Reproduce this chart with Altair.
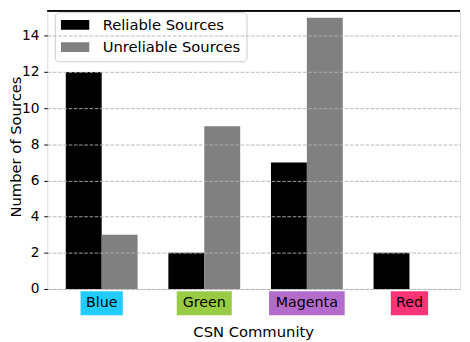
import altair as alt
import pandas as pd

# ---- data ----
communities = ["Blue", "Green", "Magenta", "Red"]
reliable = [12, 2, 7, 2]
unreliable = [3, 9, 15, 0]
series_names = ["Reliable Sources", "Unreliable Sources"]
y_ticks = [0, 2, 4, 6, 8, 10, 12, 14]
x_ticks = [0, 1, 2, 3]
x_title = "CSN Community"
y_title = "Number of Sources"

# ---- style ----
BAR_W = 0.35
SERIES_COLORS = ["#000000", "#808080"]
LABEL_COLORS = ["#22ccff", "#99cc44", "#b36ccc", "#ff3377"]
LABEL_BOX_PX = [43, 56, 77, 38]
PLOT_W, PLOT_H = 420, 283
X_DOMAIN = [-0.53, 3.493]
Y_DOMAIN = [0, 15.38]
PX_PER_UNIT = PLOT_W / (X_DOMAIN[1] - X_DOMAIN[0])
FONT = "DejaVu Sans"
GRID = dict(grid=True, gridColor="#b0b0b0", gridDash=[3.7, 1.6], gridWidth=0.9)

rows = []
for i, c in enumerate(communities):
    rows.append(dict(idx=i, community=c, series=series_names[0], value=reliable[i]))
    rows.append(dict(idx=i, community=c, series=series_names[1], value=unreliable[i]))
bars_df = pd.DataFrame(rows)

labels_df = pd.DataFrame(dict(idx=list(range(len(communities))), community=communities,
                              fill=LABEL_COLORS, boxw=LABEL_BOX_PX))

x_scale = alt.Scale(domain=X_DOMAIN, nice=False, zero=False)
y_scale = alt.Scale(domain=Y_DOMAIN, nice=False, zero=False)

bars = alt.Chart(bars_df).transform_calculate(
    x0=f"datum.series === '{series_names[0]}' ? datum.idx - {BAR_W} : datum.idx"
).transform_calculate(
    x1=f"datum.x0 + {BAR_W}"
).mark_rect().encode(
    x=alt.X("x0:Q", scale=x_scale, axis=alt.Axis(
        values=x_ticks, labels=False, ticks=True, tickSize=3.5, tickColor="black",
        tickWidth=1, domain=False, title="", zindex=1, **GRID)),
    x2="x1:Q",
    y=alt.Y("value:Q", scale=y_scale, axis=alt.Axis(
        values=y_ticks, tickSize=3.5, tickColor="black", tickWidth=1,
        labelFontSize=14, labelFont=FONT, labelColor="black", labelPadding=5,
        domain=False, title=y_title, titleFontSize=15, titleFont=FONT,
        titleFontWeight="normal", titleColor="black", titleX=-27.5, titleY=138,
        titleAngle=270, titleAlign="center", titleBaseline="alphabetic",
        zindex=1, **GRID)),
    y2=alt.datum(0),
    color=alt.Color("series:N",
                    scale=alt.Scale(domain=series_names, range=SERIES_COLORS),
                    legend=alt.Legend(
                        title=None, orient="none", legendX=7.7, legendY=1.3,
                        direction="vertical",
                        symbolType="M-1,-0.345H1V0.345H-1Z", symbolSize=841,
                        symbolStrokeWidth=0, symbolOpacity=1,
                        labelFontSize=15, labelFont=FONT, labelColor="black",
                        labelOffset=13.6, padding=6, rowPadding=7.6, clipHeight=14,
                        strokeColor="#cccccc", fillColor="rgba(255,255,255,0.8)",
                        cornerRadius=4)),
)

boxes = alt.Chart(labels_df).transform_calculate(
    xl=f"datum.idx - datum.boxw / 2 / {PX_PER_UNIT}",
    xr=f"datum.idx + datum.boxw / 2 / {PX_PER_UNIT}",
).mark_rect().encode(
    x=alt.X("xl:Q", scale=x_scale, axis=None),
    x2="xr:Q",
    y=alt.value(285.3),
    y2=alt.value(309.7),
    fill=alt.Fill("fill:N", scale=None),
)

texts = alt.Chart(labels_df).mark_text(
    fontSize=14.5, font=FONT, baseline="alphabetic", align="center", color="black"
).encode(
    x=alt.X("idx:Q", scale=x_scale, axis=None),
    y=alt.value(301.5),
    text="community:N",
)

xtitle = alt.Chart(pd.DataFrame({"t": [x_title]})).mark_text(
    fontSize=15, font=FONT, baseline="alphabetic", align="center", color="black"
).encode(
    x=alt.value(PLOT_W / 2),
    y=alt.value(332),
    text="t:N",
)

top_spine = alt.Chart(labels_df).mark_rule(color="black", strokeWidth=1).encode(
    x=alt.value(0), x2=alt.value(PLOT_W), y=alt.value(0)
)

chart = alt.layer(bars, boxes, texts, xtitle, top_spine).properties(
    width=PLOT_W, height=PLOT_H,
    autosize=alt.AutoSizeParams(type="none"),
    padding={"left": 40, "top": 0, "right": 2, "bottom": 51},
).configure_view(stroke="#e8e8e8", strokeWidth=1).configure(font=FONT)

chart.save("out.html", embed_options={"renderer": "svg", "actions": False})
